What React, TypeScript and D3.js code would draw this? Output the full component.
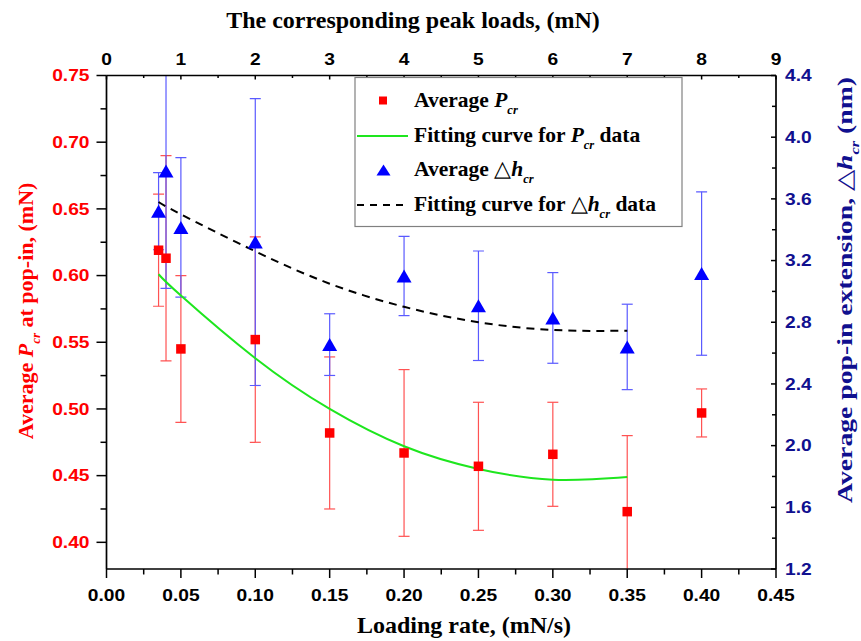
import React from "react";
import * as d3 from "d3";

// ---------- data ----------
const rates = [0.035, 0.04, 0.05, 0.1, 0.15, 0.2, 0.25, 0.3, 0.35, 0.4];
const pcrMean = [0.619, 0.613, 0.545, 0.552, 0.482, 0.467, 0.457, 0.466, 0.423, 0.497];
const pcrErr = [0.042, 0.077, 0.055, 0.077, 0.057, 0.0625, 0.048, 0.039, 0.057, 0.018];
const dhMean = [3.52, 3.78, 3.415, 3.32, 2.655, 3.1, 2.907, 2.828, 2.64, 3.116];
const dhErr = [0.25, 0.76, 0.452, 0.93, 0.2, 0.257, 0.355, 0.294, 0.277, 0.53];

const fitRates = [0.035, 0.05, 0.1, 0.15, 0.2, 0.25, 0.3, 0.35];
const pcrFit = [0.601, 0.585, 0.538, 0.5, 0.472, 0.455, 0.447, 0.449];
const dhFit = [3.58, 3.5, 3.26, 3.05, 2.9, 2.8, 2.75, 2.745];

const bottomTicks = [0, 0.05, 0.1, 0.15, 0.2, 0.25, 0.3, 0.35, 0.4, 0.45];
const topTicks = [0, 1, 2, 3, 4, 5, 6, 7, 8, 9];
const leftTicks = [0.4, 0.45, 0.5, 0.55, 0.6, 0.65, 0.7, 0.75];
const rightTicks = [1.2, 1.6, 2.0, 2.4, 2.8, 3.2, 3.6, 4.0, 4.4];

const SANS = "'Liberation Sans', Arial, sans-serif";
const SERIF = "'Liberation Serif', 'Times New Roman', serif";

const RED = "#ff0000";
const RED_ERR = "#ff5252";
const BLUE = "#0000ff";
const BLUE_ERR = "#5a5aff";
const NAVY = "#10108f";
const GREEN = "#1ee61e";

const L = 106.5, R = 776, T = 75.5, B = 569;

function mids(a: number[]) {
  const out: number[] = [];
  for (let i = 0; i < a.length - 1; i++) out.push((a[i] + a[i + 1]) / 2);
  return out;
}

function TickText({ x, y, anchor, fill, children, sx = 1.2 }: any) {
  return (
    <text
      transform={`translate(${x},${y}) scale(${sx},1)`}
      textAnchor={anchor}
      fontFamily={SANS}
      fontWeight="bold"
      fontSize={16}
      fill={fill}
    >
      {children}
    </text>
  );
}

export default function App() {
  const x = d3.scaleLinear().domain([0, 0.45]).range([L, R]);
  const xTop = d3.scaleLinear().domain([0, 9]).range([L, R]);
  const yL = d3.scaleLinear().domain([0.38, 0.75]).range([B, T]);
  const yR = d3.scaleLinear().domain([1.2, 4.4]).range([B, T]);

  const greenLine = d3
    .line<number>()
    .x((_, i) => x(fitRates[i]))
    .y((d) => yL(d))
    .curve(d3.curveNatural)(pcrFit) as string;
  const dashLine = d3
    .line<number>()
    .x((_, i) => x(fitRates[i]))
    .y((d) => yR(d))
    .curve(d3.curveNatural)(dhFit) as string;

  const tri = (cx: number, cy: number, w = 15, h = 13) =>
    `M${cx},${cy - h / 2}L${cx + w / 2},${cy + h / 2}L${cx - w / 2},${cy + h / 2}Z`;

  const capW = 11;

  return (
    <svg
      width={861}
      height={641}
      style={{ position: "absolute", left: 0, top: 0, background: "#fff" }}
    >
      <defs>
        <clipPath id="plotClip">
          <rect x={L} y={T} width={R - L} height={B - T} />
        </clipPath>
      </defs>
      <rect x={0} y={0} width={861} height={641} fill="#fff" />

      {/* error bars */}
      <g clipPath="url(#plotClip)">
        {rates.map((r, i) => {
          const cx = x(r);
          const y1 = yL(pcrMean[i] + pcrErr[i]);
          const y2 = yL(pcrMean[i] - pcrErr[i]);
          return (
            <g key={"re" + i} stroke={RED_ERR} strokeWidth={1.2}>
              <line x1={cx} x2={cx} y1={y1} y2={y2} />
              <line x1={cx - capW / 2} x2={cx + capW / 2} y1={y1} y2={y1} />
              <line x1={cx - capW / 2} x2={cx + capW / 2} y1={y2} y2={y2} />
            </g>
          );
        })}
        {rates.map((r, i) => {
          const cx = x(r);
          const y1 = yR(dhMean[i] + dhErr[i]);
          const y2 = yR(dhMean[i] - dhErr[i]);
          return (
            <g key={"be" + i} stroke={BLUE_ERR} strokeWidth={1.2}>
              <line x1={cx} x2={cx} y1={y1} y2={y2} />
              <line x1={cx - capW / 2} x2={cx + capW / 2} y1={y1} y2={y1} />
              <line x1={cx - capW / 2} x2={cx + capW / 2} y1={y2} y2={y2} />
            </g>
          );
        })}
      </g>

      {/* fitted curves */}
      <path d={greenLine} fill="none" stroke={GREEN} strokeWidth={2} />
      <path d={dashLine} fill="none" stroke="#000" strokeWidth={2} strokeDasharray="8,6" />

      {/* markers */}
      {rates.map((r, i) => (
        <rect key={"sq" + i} x={x(r) - 4.75} y={yL(pcrMean[i]) - 4.75} width={9.5} height={9.5} fill={RED} />
      ))}
      {rates.map((r, i) => (
        <path key={"tr" + i} d={tri(x(r), yR(dhMean[i]))} fill={BLUE} />
      ))}

      {/* frame */}
      <g stroke="#000" strokeWidth={1.7} fill="none">
        <line x1={L} x2={R} y1={B} y2={B} />
        <line x1={L} x2={R} y1={T} y2={T} />
        <line x1={L} x2={L} y1={T} y2={B} />
        <line x1={R} x2={R} y1={T} y2={B} />
      </g>

      {/* ticks */}
      <g stroke="#000" strokeWidth={1.5}>
        {bottomTicks.map((t) => (
          <line key={"bt" + t} x1={x(t)} x2={x(t)} y1={B} y2={B + 9} />
        ))}
        {mids(bottomTicks).map((t) => (
          <line key={"bm" + t} x1={x(t)} x2={x(t)} y1={B} y2={B + 5.5} />
        ))}
        {topTicks.map((t) => (
          <line key={"tt" + t} x1={xTop(t)} x2={xTop(t)} y1={T} y2={T + 4} />
        ))}
        {mids(topTicks).map((t) => (
          <line key={"tm" + t} x1={xTop(t)} x2={xTop(t)} y1={T} y2={T + 2.5} />
        ))}
        {leftTicks.map((t) => (
          <line key={"lt" + t} x1={L - 10} x2={L} y1={yL(t)} y2={yL(t)} />
        ))}
        {mids(leftTicks).map((t) => (
          <line key={"lm" + t} x1={L - 6} x2={L} y1={yL(t)} y2={yL(t)} />
        ))}
        {rightTicks.map((t) => (
          <line key={"rt" + t} x1={R - 5} x2={R} y1={yR(t)} y2={yR(t)} />
        ))}
        {mids(rightTicks).map((t) => (
          <line key={"rm" + t} x1={R - 4} x2={R} y1={yR(t)} y2={yR(t)} />
        ))}
      </g>

      {/* tick labels */}
      {bottomTicks.map((t) => (
        <TickText key={"bl" + t} x={x(t)} y={601} anchor="middle" fill="#000">
          {t.toFixed(2)}
        </TickText>
      ))}
      {topTicks.map((t) => (
        <TickText key={"tl" + t} x={xTop(t)} y={65} anchor="middle" fill="#000">
          {String(t)}
        </TickText>
      ))}
      {leftTicks.map((t) => (
        <TickText key={"ll" + t} x={89.5} y={yL(t) + 5.7} anchor="end" fill={RED}>
          {t.toFixed(2)}
        </TickText>
      ))}
      {rightTicks.map((t) => (
        <TickText key={"rl" + t} x={785} y={yR(t) + 5.7} anchor="start" fill={NAVY}>
          {t.toFixed(1)}
        </TickText>
      ))}

      {/* axis titles */}
      <text x={413} y={28} textAnchor="middle" fontFamily={SERIF} fontWeight="bold" fontSize={24} fill="#000">
        The corresponding peak loads, (mN)
      </text>
      <text x={464} y={633} textAnchor="middle" fontFamily={SERIF} fontWeight="bold" fontSize={24} fill="#000">
        Loading rate, (mN/s)
      </text>
      <text
        transform="translate(33,311) rotate(-90)"
        textAnchor="middle"
        fontFamily={SERIF}
        fontWeight="bold"
        fontSize={22}
        fill={RED}
      >
        {"Average  "}
        <tspan fontStyle="italic">P</tspan>
        <tspan fontStyle="italic" fontSize={13} dy={7}>cr</tspan>
        <tspan dy={-7}>{"   at pop-in, (mN)"}</tspan>
      </text>
      <text
        transform="translate(852,290) rotate(-90) scale(1.26,1)"
        textAnchor="middle"
        fontFamily={SERIF}
        fontWeight="bold"
        fontSize={22}
        fill={NAVY}
      >
        {"Average pop-in extension,  "}
        <tspan fontWeight="normal">△</tspan>
        <tspan fontStyle="italic">h</tspan>
        <tspan fontStyle="italic" fontSize={13} dy={7}>cr</tspan>
        <tspan dy={-7}>{" (nm)"}</tspan>
      </text>

      {/* legend */}
      <rect x={355} y={77.5} width={327} height={149} fill="#fff" stroke="#808080" strokeWidth={1.2} />
      <rect x={379} y={96.5} width={8} height={8} fill={RED} />
      <line x1={357} x2={408} y1={136} y2={136} stroke={GREEN} strokeWidth={2} />
      <path d={tri(383.5, 170, 14, 11)} fill={BLUE} />
      <line x1={357} x2={408} y1={205} y2={205} stroke="#000" strokeWidth={2} strokeDasharray="7,6" />
      <g fontFamily={SERIF} fontWeight="bold" fontSize={21.5} fill="#000">
        <text x={414} y={107}>
          {"Average "}
          <tspan fontStyle="italic">P</tspan>
          <tspan fontStyle="italic" fontSize={12.5} dy={7}>cr</tspan>
        </text>
        <text x={414} y={142}>
          {"Fitting curve for "}
          <tspan fontStyle="italic">P</tspan>
          <tspan fontStyle="italic" fontSize={12.5} dy={7}>cr</tspan>
          <tspan dy={-7}>{" data"}</tspan>
        </text>
        <text x={414} y={176}>
          {"Average  "}
          <tspan fontWeight="normal">△</tspan>
          <tspan fontStyle="italic">h</tspan>
          <tspan fontStyle="italic" fontSize={12.5} dy={7}>cr</tspan>
        </text>
        <text x={414} y={211}>
          {"Fitting curve for  "}
          <tspan fontWeight="normal">△</tspan>
          <tspan fontStyle="italic">h</tspan>
          <tspan fontStyle="italic" fontSize={12.5} dy={7}>cr</tspan>
          <tspan dy={-7}>{" data"}</tspan>
        </text>
      </g>
    </svg>
  );
}
